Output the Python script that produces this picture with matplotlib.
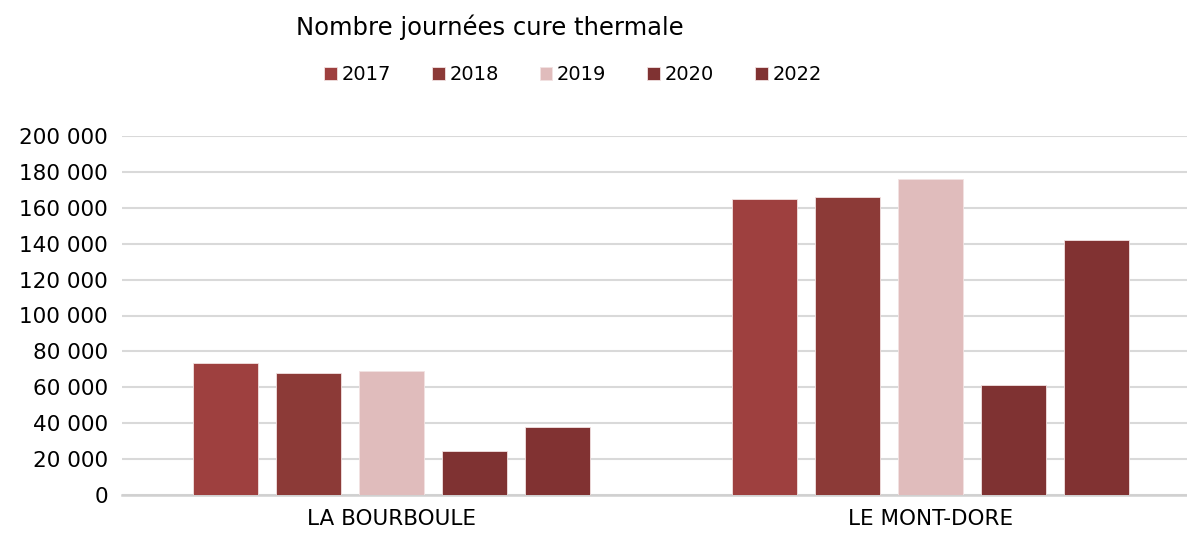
import numpy as np
import matplotlib.pyplot as plt
from matplotlib.ticker import FuncFormatter

plt.rcParams['font.family'] = 'DejaVu Sans'

stations = ['LA BOURBOULE', 'LE MONT-DORE']
years = ['2017', '2018', '2019', '2020', '2022']
journees = {
    '2017': [73500, 165000],
    '2018': [68000, 166000],
    '2019': [69000, 176000],
    '2020': [24500, 61500],
    '2022': [38000, 142000],
}
colors = ['#9E403F', '#8C3A37', '#E0BCBC', '#7F3232', '#813232']

fig = plt.figure(figsize=(11.87, 5.37), dpi=100)
ax = fig.add_axes([122 / 1187, 1 - 495 / 537, 1078 / 1187, 359 / 537])

x = np.arange(len(stations))
step = 0.154
width = 0.1206
for i, (yr, col) in enumerate(zip(years, colors)):
    ax.bar(x + (i - 2) * step, journees[yr], width, color=col, label=yr,
           edgecolor='#F2E2E2', linewidth=0.6, zorder=3)

ax.set_xlim(-0.5, 1.5)
ax.set_ylim(0, 200000)
ax.set_yticks(np.arange(0, 200001, 20000))
ax.yaxis.set_major_formatter(FuncFormatter(lambda v, p: f'{int(v):,}'.replace(',', ' ')))
ax.set_xticks(x)
ax.set_xticklabels(stations)
ax.tick_params(axis='both', length=0, labelsize=15.5, colors='#000000')
ax.tick_params(axis='y', pad=10)
ax.tick_params(axis='x', pad=10)
ax.grid(axis='y', color='#D9D9D9', linewidth=1.5, zorder=0)
for s in ['top', 'right', 'left']:
    ax.spines[s].set_visible(False)
ax.spines['bottom'].set_color('#D0D0D0')
ax.spines['bottom'].set_linewidth(1.8)

fig.text(490 / 1187, 1 - 27 / 537, 'Nombre journées cure thermale',
         ha='center', va='center', fontsize=17.5)
fig.legend(loc='center', bbox_to_anchor=(573 / 1187, 1 - 75 / 537), ncol=5,
           frameon=False, fontsize=14, handlelength=0.65, handleheight=0.65,
           handletextpad=0.25, columnspacing=2.1)

fig.savefig('out.png', dpi=100, facecolor='white')
